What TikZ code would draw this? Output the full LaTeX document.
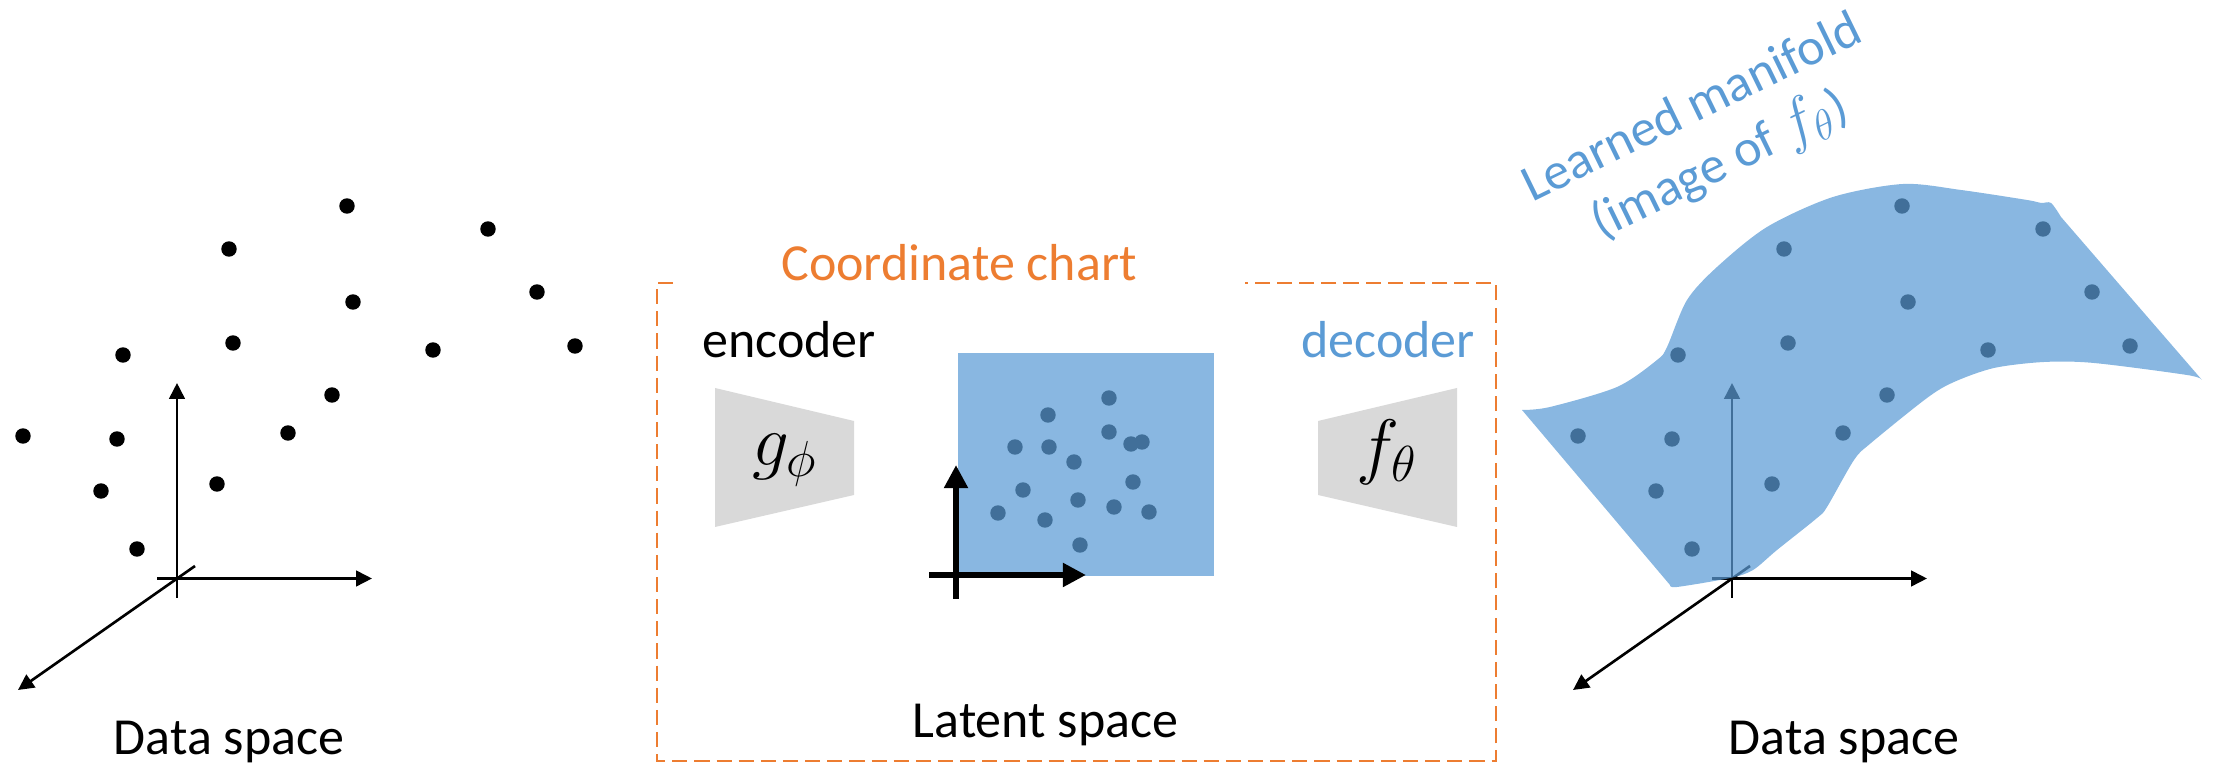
\documentclass[tikz,border=0pt]{standalone}
\usepackage{fontspec}
\setmainfont{Carlito}
\usepackage{xcolor}
\usepackage{tikz}
\usetikzlibrary{arrows.meta}

\definecolor{chartorange}{HTML}{ED7D31}
\definecolor{sheetblue}{HTML}{5B9BD5}
\definecolor{netgray}{HTML}{D9D9D9}

\begin{document}
\begin{tikzpicture}[
  datadot/.style={fill=black},
  axarrow/.style={-{Triangle[length=4.5pt,width=4.4pt]}, line width=0.75pt},
  latarrow/.style={-{Triangle[length=6.6pt,width=6.5pt]}, line width=1.7pt},
  txt/.style={font=\fontsize{14.8}{18}\selectfont, inner sep=0pt},
  mapname/.style={font=\fontsize{20}{22}\selectfont, inner sep=0pt},
  net/.style={fill=netgray, draw=none},
  sheet/.style={fill=sheetblue, fill opacity=0.72},
  chart/.style={draw=chartorange, line width=0.75pt, dash pattern=on 4.3pt off 2pt}
]
\useasboundingbox (0,0) rectangle (22.14,7.8);

% same point cloud and axes in both data spaces
\foreach \dx in {0,15.55} {
  \begin{scope}[xshift=\dx cm]
    \draw[axarrow] (1.77,1.82) -- (1.77,3.97);
    \draw[axarrow] (1.57,2.015) -- (3.72,2.015);
    \draw[axarrow] (1.95,2.14) -- (0.18,0.90);
    \foreach \p in {(3.47,5.74),(4.88,5.51),(2.29,5.31),(3.53,4.78),(2.33,4.37),
                    (1.23,4.25),(4.33,4.30),(3.32,3.85),(0.23,3.44),(1.17,3.41),
                    (2.88,3.47),(1.01,2.89),(2.17,2.96),(1.37,2.31),(5.37,4.88),(5.75,4.34)}
      \fill[datadot] \p circle[radius=2.2pt];
  \end{scope}
}

% learned manifold sheet over the right cloud
\fill[sheet] plot[smooth] coordinates {(15.22,3.70) (15.50,3.73) (16.17,3.93) (16.57,4.20)
    (16.67,4.33) (16.87,4.80) (17.17,5.13) (17.67,5.53) (18.33,5.83) (19.03,5.96)
    (19.61,5.90) (20.27,5.80) (20.41,5.77) (20.51,5.77) (20.61,5.63)}
  -- plot[smooth] coordinates {(22.02,4.00) (21.87,4.05) (20.94,4.17) (20.44,4.18)
    (19.94,4.12) (19.54,3.98) (19.27,3.82) (18.71,3.37) (18.54,3.20) (18.27,2.73)
    (18.17,2.62) (17.77,2.30) (17.53,2.10) (17.30,2.02) (16.77,1.93) (16.70,1.95)}
  -- cycle;

% latent space: codes under a tinted square, thick 2d axes on top
\foreach \p in {(11.09,3.82),(10.48,3.65),(11.09,3.48),(10.15,3.33),(10.49,3.33),
                (11.31,3.36),(11.42,3.38),(10.74,3.18),(10.23,2.90),(11.33,2.98),
                (10.78,2.80),(11.14,2.73),(9.98,2.67),(10.45,2.60),(11.49,2.68),(10.80,2.35)}
  \fill[datadot] \p circle[radius=2.2pt];
\fill[sheet] (9.58,2.04) rectangle (12.14,4.27);
\draw[latarrow] (9.56,1.81) -- (9.56,3.15);
\draw[latarrow] (9.29,2.05) -- (10.86,2.05);

% encoder / decoder blocks
\fill[net] (7.15,3.92) -- (8.54,3.59) -- (8.54,2.85) -- (7.15,2.53) -- cycle;
\fill[net] (13.18,3.59) -- (14.57,3.92) -- (14.57,2.53) -- (13.18,2.85) -- cycle;
\node[mapname] (gphi) at (7.85,3.20) {$g_\phi$};
\node[mapname] (ftheta) at (13.87,3.28) {$f_\theta$};

% chart frame, top edge left open for the title
\draw[chart] (6.73,4.97) -- (6.57,4.97) -- (6.57,0.19) -- (14.96,0.19) -- (14.96,4.97) -- (12.45,4.97);

\node[txt, anchor=base, text=chartorange] (title) at (9.59,4.99) {Coordinate chart};
\node[txt, anchor=base] (enc) at (7.89,4.22) {encoder};
\node[txt, anchor=base, text=sheetblue] (dec) at (13.88,4.22) {decoder};
\node[txt, anchor=base] (dataL) at (2.29,0.25) {Data space};
\node[txt, anchor=base] (latent) at (10.455,0.42) {Latent space};
\node[txt, anchor=base] (dataR) at (18.44,0.25) {Data space};
\node[txt, text=sheetblue, align=center, rotate=26] (mani) at (17.07,6.41)
  {Learned manifold\\(image of {\fontsize{18}{18}\selectfont$f_\theta$})};
\end{tikzpicture}
\end{document}
